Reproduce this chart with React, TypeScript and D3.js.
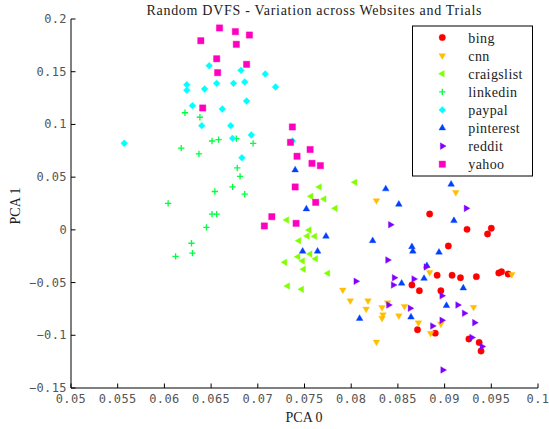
import * as d3 from "d3"

const categories = ["bing", "cnn", "craigslist", "linkedin", "paypal", "pinterest", "reddit", "yahoo"]
const colors = ["#ff0000", "#ffbf00", "#80ff00", "#00ff40", "#00ffff", "#0040ff", "#8000ff", "#ff00bf"]

const bing: [number, number][] = [
  [0.0884, 0.015], [0.0924, 0.0005], [0.095, 0.0015], [0.0946, -0.0039], [0.0904, -0.0153],
  [0.0892, -0.0431], [0.0908, -0.0431], [0.0917, -0.0454], [0.0934, -0.0444], [0.0958, -0.0409],
  [0.0961, -0.0397], [0.0968, -0.0419], [0.0865, -0.0523], [0.0873, -0.0577], [0.0896, -0.0577],
  [0.0871, -0.0947], [0.089, -0.098], [0.0926, -0.1035], [0.0937, -0.1068], [0.0939, -0.1149]
]
const cnn: [number, number][] = [
  [0.0827, 0.0278], [0.0912, 0.0356], [0.0884, -0.0403], [0.0972, -0.0422], [0.0791, -0.057],
  [0.0799, -0.0672], [0.0818, -0.0672], [0.0816, -0.0751], [0.0833, -0.0736], [0.0839, -0.0691],
  [0.0834, -0.0805], [0.0833, -0.0838], [0.0857, -0.0725], [0.0851, -0.0815], [0.0931, -0.0734],
  [0.0872, -0.0881], [0.0896, -0.0893], [0.0885, -0.0981], [0.0827, -0.1064]
]
const craigslist: [number, number][] = [
  [0.0766, 0.0407], [0.0804, 0.0451], [0.0757, 0.0318], [0.0771, 0.0293], [0.0783, 0.0204],
  [0.0731, 0.0093], [0.0755, -0.0001], [0.0753, -0.0058], [0.0761, -0.0061], [0.0744, -0.0103],
  [0.0743, -0.0255], [0.0756, -0.0229], [0.0762, -0.0274], [0.0729, -0.0308], [0.0748, -0.0295],
  [0.0749, -0.0374], [0.0775, -0.0412], [0.0732, -0.0533], [0.0747, -0.0564]
]
const linkedin: [number, number][] = [
  [0.0622, 0.1111], [0.0638, 0.1068], [0.0618, 0.0776], [0.0637, 0.072], [0.0651, 0.0843],
  [0.0658, 0.0855], [0.0677, 0.0865], [0.0695, 0.0821], [0.0678, 0.0587], [0.0681, 0.0508],
  [0.0654, 0.0364], [0.0673, 0.0407], [0.0686, 0.0338], [0.0604, 0.0252], [0.0651, 0.015],
  [0.0656, 0.015], [0.0645, 0.0024], [0.0629, -0.0127], [0.063, -0.022], [0.0612, -0.0251]
]
const paypal: [number, number][] = [
  [0.0557, 0.0821], [0.0624, 0.1377], [0.0624, 0.1324], [0.063, 0.1178], [0.0643, 0.1336],
  [0.0648, 0.1557], [0.0656, 0.139], [0.0662, 0.1146], [0.064, 0.0988], [0.0671, 0.0988],
  [0.0673, 0.0868], [0.0674, 0.139], [0.0682, 0.1513], [0.0686, 0.1402], [0.0688, 0.1222],
  [0.0693, 0.09], [0.0683, 0.0684], [0.0708, 0.1478], [0.0719, 0.1355], [0.0737, 0.0843]
]
const pinterest: [number, number][] = [
  [0.074, 0.0568], [0.0837, 0.0388], [0.0851, 0.0242], [0.0752, 0.0198], [0.0773, -0.0061],
  [0.0823, -0.0103], [0.0748, -0.0203], [0.0764, -0.0203], [0.0809, -0.0841], [0.0907, 0.0432],
  [0.091, 0.0087], [0.0865, -0.016], [0.0866, -0.0203], [0.0894, -0.0213], [0.0881, -0.034],
  [0.0878, -0.0461], [0.0854, -0.0507], [0.092, -0.0552], [0.0902, -0.0719], [0.0864, -0.0828]
]
const reddit: [number, number][] = [
  [0.0923, 0.0204], [0.0842, 0.0049], [0.0839, -0.0286], [0.088, -0.0352], [0.0805, -0.0488],
  [0.0846, -0.0454], [0.0867, -0.0466], [0.0845, -0.0523], [0.0897, -0.0625], [0.084, -0.0713],
  [0.0863, -0.0744], [0.0914, -0.0713], [0.0921, -0.0791], [0.0932, -0.088], [0.0897, -0.0858],
  [0.0887, -0.0912], [0.0929, -0.1021], [0.094, -0.1106], [0.0898, -0.1329]
]
const yahoo: [number, number][] = [
  [0.0639, 0.1794], [0.0659, 0.1915], [0.0676, 0.188], [0.0691, 0.1848], [0.0677, 0.176],
  [0.0656, 0.1623], [0.0688, 0.157], [0.0657, 0.1491], [0.0641, 0.1156], [0.0737, 0.0976],
  [0.0735, 0.083], [0.0742, 0.0698], [0.074, 0.0407], [0.0756, 0.0762], [0.0758, 0.0631],
  [0.0767, 0.0609], [0.0762, 0.0261], [0.0715, 0.0125], [0.0741, 0.0062], [0.0707, 0.0037]
]

const seriesData = [bing, cnn, craigslist, linkedin, paypal, pinterest, reddit, yahoo]

const xTicks = [0.05, 0.055, 0.06, 0.065, 0.07, 0.075, 0.08, 0.085, 0.09, 0.095, 0.1]
const xTickLabels = ["0.05", "0.055", "0.06", "0.065", "0.07", "0.075", "0.08", "0.085", "0.09", "0.095", "0.1"]
const yTicks = [-0.15, -0.1, -0.05, 0, 0.05, 0.1, 0.15, 0.2]
const yTickLabels = ["\u22120.15", "\u22120.1", "\u22120.05", "0", "0.05", "0.1", "0.15", "0.2"]

// marker per series: symbol type, size, rotation, stroked or filled
const markers = [
  { type: d3.symbolCircle, size: 32, rotate: 0, stroke: false },
  { type: d3.symbolTriangle, size: 19, rotate: 180, stroke: false },
  { type: d3.symbolTriangle, size: 19, rotate: -90, stroke: false },
  { type: d3.symbolPlus, size: 15, rotate: 0, stroke: true },
  { type: d3.symbolDiamond2, size: 30, rotate: 0, stroke: false },
  { type: d3.symbolTriangle, size: 19, rotate: 0, stroke: false },
  { type: d3.symbolTriangle, size: 19, rotate: 90, stroke: false },
  { type: d3.symbolSquare, size: 40, rotate: 0, stroke: false }
]

function Marker({ i, x, y }: { i: number; x: number; y: number }) {
  const m = markers[i]
  const d = d3.symbol().type(m.type).size(m.size)() as string
  return (
    <path
      d={d}
      transform={`translate(${x},${y}) rotate(${m.rotate})`}
      fill={m.stroke ? "none" : colors[i]}
      stroke={colors[i]}
      strokeWidth={m.stroke ? 1.3 : 0.4}
    />
  )
}

export default function App() {
  const width = 549
  const height = 429
  const x = d3.scaleLinear().domain([0.05, 0.1]).range([71, 538])
  const y = d3.scaleLinear().domain([-0.15, 0.2]).range([388, 19])
  const serif = "'Liberation Serif', 'Times New Roman', serif"
  const mono = "'DejaVu Sans Mono', monospace"

  const legendLeft = 412.5
  const legendTop = 26
  const rowY = (i: number) => 37.5 + i * 18.1

  return (
    <div style={{ position: "fixed", left: 0, top: 0 }}>
      <svg width={width} height={height} style={{ display: "block", background: "#fff" }}>
        <rect x={0} y={0} width={width} height={height} fill="#fff" />
        <text x={314} y={15} fontFamily={serif} fontSize={14} textAnchor="middle" textLength={335} lengthAdjust="spacing" fill="#222">
          Random DVFS - Variation across Websites and Trials
        </text>

        {seriesData.map((pts, i) => (
          <g key={categories[i]}>
            {pts.map((p, j) => (
              <Marker key={j} i={i} x={x(p[0])} y={y(p[1])} />
            ))}
          </g>
        ))}

        {/* axes */}
        <line x1={x(0.05)} x2={x(0.1)} y1={y(-0.15)} y2={y(-0.15)} stroke="#000" strokeWidth={1} />
        <line x1={x(0.05)} x2={x(0.05)} y1={y(-0.15)} y2={y(0.2)} stroke="#000" strokeWidth={1} />
        {xTicks.map((t, i) => (
          <g key={"x" + t}>
            <line x1={x(t)} x2={x(t)} y1={y(-0.15)} y2={y(-0.15) - 4.5} stroke="#000" />
            <text x={x(t)} y={403} fontFamily={mono} fontSize={12} letterSpacing={0.4} textAnchor="middle" fill="#555">
              {xTickLabels[i]}
            </text>
          </g>
        ))}
        {yTicks.map((t, i) => (
          <g key={"y" + t}>
            <line x1={x(0.05)} x2={x(0.05) + 4.5} y1={y(t)} y2={y(t)} stroke="#000" />
            <text x={67} y={y(t) + 4} fontFamily={mono} fontSize={12} letterSpacing={0.4} textAnchor="end" fill="#555">
              {yTickLabels[i]}
            </text>
          </g>
        ))}

        <text x={304} y={422} fontFamily={serif} fontSize={14} textAnchor="middle" fill="#222">PCA 0</text>
        <text transform="translate(20,206) rotate(-90)" fontFamily={serif} fontSize={14} textAnchor="middle" fill="#222">PCA 1</text>

        {/* legend */}
        <rect x={legendLeft} y={legendTop} width={120} height={150} fill="#fff" stroke="#000" strokeWidth={1} />
        {categories.map((c, i) => (
          <g key={"l" + c}>
            <Marker i={i} x={442.3} y={rowY(i)} />
            <text x={468.3} y={rowY(i) + 5} fontFamily={serif} fontSize={14} letterSpacing={0.4} fill="#222">{c}</text>
          </g>
        ))}
      </svg>
    </div>
  )
}
